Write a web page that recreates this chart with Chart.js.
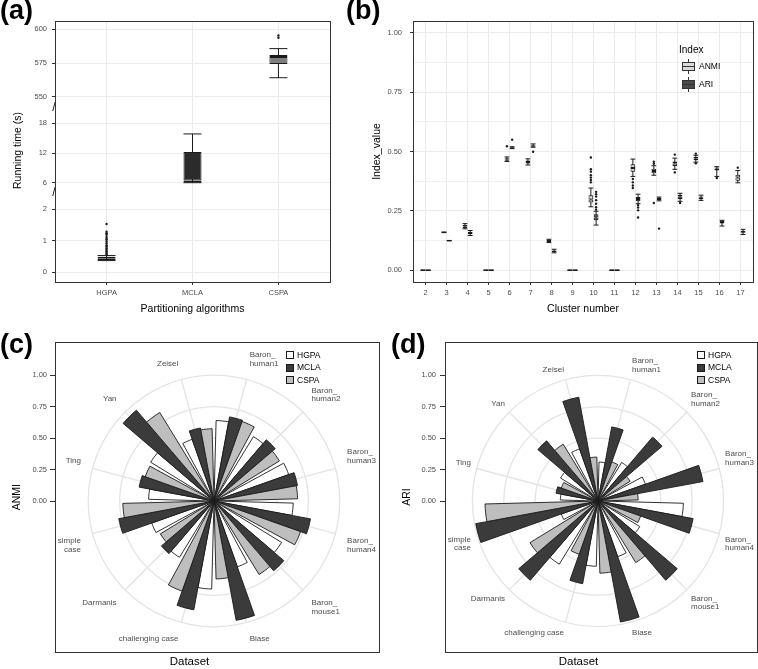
<!DOCTYPE html>
<html lang="en">
<head>
<meta charset="utf-8">
<title>Consensus partitioning: running time and clustering indices</title>
<script src="https://cdn.jsdelivr.net/npm/chart.js@4.4.1/dist/chart.umd.min.js"></script>
<style>
  html, body { margin: 0; padding: 0; background: #fff; }
  body { position: relative; width: 758px; height: 669px; overflow: hidden;
         font-family: 'Liberation Sans', Arial, sans-serif; color: #000; }
  canvas { position: absolute; }
  .tag { position: absolute; font-weight: bold; font-size: 27px; line-height: 27px; }
  .lg  { position: absolute; font-size: 8.5px; line-height: 12px; white-space: nowrap; }
  .lgt { position: absolute; font-size: 10px; line-height: 13px; white-space: nowrap; }
  .sw  { position: absolute; width: 6px; height: 6px; border: 1px solid #1a1a1a; }
  .key { position: absolute; width: 13px; height: 15px; }
  .key i { position: absolute; display: block; }
  .key .wh { left: 6px; top: 0; width: 1px; height: 15px; background: #333; }
  .key .bx { left: 0; top: 3px; width: 11px; height: 7px; border: 1px solid #333; }
  .key .md { left: 0; top: 7px; width: 13px; height: 1px; background: #333; }
</style>
</head>
<body>
<canvas id="runChart" width="340" height="320" style="left:0;top:0"></canvas>
<canvas id="clusterChart" width="390" height="320" style="left:368px;top:0"></canvas>
<canvas id="anmiChart" width="384" height="339" style="left:0;top:330px"></canvas>
<canvas id="ariChart" width="358" height="339" style="left:400px;top:330px"></canvas>
<div class="tag" style="left:0;top:-3px">(a)</div>
<div class="tag" style="left:346px;top:-3px">(b)</div>
<div class="tag" style="left:0;top:331px">(c)</div>
<div class="tag" style="left:391px;top:331px">(d)</div>
<script>
// ---------- (a) running time per partitioning algorithm ----------
var ALGORITHMS = ['HGPA', 'MCLA', 'CSPA'];
var RUN_LOWER  = [0.37, 6.0, 564.1];
var RUN_Q1     = [0.39, 6.05, 574.3];
var RUN_MEDIAN = [0.43, 6.45, 579.5];
var RUN_Q3     = [0.49, 12.2, 580.9];
var RUN_UPPER  = [0.53, 15.85, 585.7];
var RUN_OUTLIERS = [
  [0.55, 0.58, 0.62, 0.67, 0.71, 0.76, 0.82, 0.85, 0.91, 0.97, 1.03, 1.06, 1.12, 1.19, 1.24, 1.29, 1.53],
  [],
  [593.8, 595.5]
];
var RUN_SEGMENT = ['yLow', 'yMid', 'yTop'];
var SEG_TOP_TICKS = [550, 575, 600];
var SEG_MID_TICKS = [6, 12, 18];
var SEG_LOW_TICKS = [0, 1, 2];

// ---------- (b) index values per cluster number ----------
var CLUSTERS = [2, 3, 4, 5, 6, 7, 8, 9, 10, 11, 12, 13, 14, 15, 16, 17];
var INDICES = ['ANMI', 'ARI'];
var ANMI_BOX_LOWER = [0, 0.160, 0.174, 0, 0.458, 0.443, 0.116, 0, 0.267, 0, 0.395, 0.400, 0.425, 0.455, 0.395, 0.368];
var ANMI_BOX_Q1    = [0, 0.160, 0.178, 0, 0.461, 0.449, 0.119, 0, 0.285, 0, 0.415, 0.408, 0.439, 0.463, 0.420, 0.377];
var ANMI_BOX_MED   = [0, 0.160, 0.184, 0, 0.466, 0.456, 0.123, 0, 0.298, 0, 0.430, 0.418, 0.449, 0.470, 0.428, 0.390];
var ANMI_BOX_Q3    = [0, 0.160, 0.190, 0, 0.472, 0.462, 0.126, 0, 0.316, 0, 0.446, 0.427, 0.458, 0.477, 0.433, 0.402];
var ANMI_BOX_UPPER = [0, 0.160, 0.196, 0, 0.477, 0.469, 0.130, 0, 0.346, 0, 0.468, 0.440, 0.472, 0.484, 0.436, 0.420];
var ANMI_BOX_OUT = [[], [], [], [], [0.522], [], [], [],
  [0.37, 0.38, 0.39, 0.40, 0.415, 0.425, 0.475], [], [0.384, 0.37, 0.357, 0.346],
  [0.448, 0.457, 0.283], [0.487, 0.412], [0.491, 0.450], [0.388], [0.432]];
var ARI_BOX_LOWER = [0, 0.125, 0.146, 0, 0.512, 0.518, 0.073, 0, 0.190, 0, 0.280, 0.292, 0.290, 0.294, 0.186, 0.150];
var ARI_BOX_Q1    = [0, 0.125, 0.151, 0, 0.513, 0.520, 0.076, 0, 0.210, 0, 0.290, 0.295, 0.300, 0.299, 0.197, 0.155];
var ARI_BOX_MED   = [0, 0.125, 0.156, 0, 0.516, 0.524, 0.079, 0, 0.222, 0, 0.300, 0.300, 0.310, 0.305, 0.203, 0.160];
var ARI_BOX_Q3    = [0, 0.125, 0.161, 0, 0.518, 0.527, 0.082, 0, 0.236, 0, 0.308, 0.305, 0.318, 0.310, 0.207, 0.166];
var ARI_BOX_UPPER = [0, 0.125, 0.167, 0, 0.520, 0.532, 0.088, 0, 0.248, 0, 0.320, 0.308, 0.324, 0.316, 0.210, 0.172];
var ARI_BOX_OUT = [[], [], [], [], [0.55], [0.499], [], [],
  [0.255, 0.265, 0.28, 0.295, 0.31, 0.32, 0.33], [], [0.274, 0.264, 0.252, 0.222],
  [0.175], [0.283], [], [], []];
var INDEX_BREAKS = [0, 0.25, 0.5, 0.75, 1];
var INDEX_GRID = [0, 0.125, 0.25, 0.375, 0.5, 0.625, 0.75, 0.875, 1];

// ---------- (c) ANMI and (d) ARI per dataset ----------
var DATASET_NAMES = [['Baron_', 'human1'], ['Baron_', 'human2'], ['Baron_', 'human3'], ['Baron_', 'human4'],
  ['Baron_', 'mouse1'], 'Biase', 'challenging case', 'Darmanis', ['simple', 'case'], 'Ting', 'Yan', 'Zeisel'];
var ANMI_HGPA = [0.64, 0.60, 0.63, 0.63, 0.63, 0.555, 0.70, 0.525, 0.525, 0.52, 0.59, 0.52];
var ANMI_MCLA = [0.68, 0.64, 0.675, 0.78, 0.73, 0.965, 0.88, 0.55, 0.77, 0.605, 0.95, 0.59];
var ANMI_CSPA = [0.67, 0.61, 0.665, 0.73, 0.685, 0.62, 0.76, 0.50, 0.725, 0.58, 0.825, 0.575];
var ARI_HGPA = [0.31, 0.36, 0.40, 0.68, 0.39, 0.47, 0.52, 0.59, 0.31, 0.30, 0.35, 0.44];
var ARI_MCLA = [0.60, 0.67, 0.85, 0.77, 0.83, 0.98, 0.67, 0.83, 0.99, 0.34, 0.63, 0.84];
var ARI_CSPA = [0.33, 0.30, 0.32, 0.36, 0.575, 0.575, 0.45, 0.635, 0.90, 0.31, 0.53, 0.35];
var RADIAL_BREAKS = [0, 0.25, 0.5, 0.75, 1];

// ---------- shared look ----------
Chart.defaults.font.family = "'Liberation Sans', Arial, sans-serif";
Chart.defaults.color = '#4d4d4d';
Chart.defaults.animation = false;
Chart.defaults.events = [];
Chart.defaults.plugins.legend.display = false;
Chart.defaults.plugins.tooltip.enabled = false;

var INK = '#1a1a1a';
var AXIS = '#333333';
var GRID = '#ebebeb';
var TICK_FONT = { size: 7.5 };
var RUN_FILLS = ['#ffffff', '#2b2b2b', '#7f7f7f'];
var INDEX_FILLS = ['#d9d9d9', '#4a4a4a'];
var POLAR_FILLS = ['#ffffff', '#3b3b3b', '#bebebe'];
var DODGE = 0.125;

function axisTitle(text, padding, size) {
  return { display: true, text: text, color: '#000', font: { size: size || 10.5 }, padding: padding };
}

// invisible-tick axis that only draws a side of the panel frame
function frameAxis(position) {
  return {
    type: 'linear', position: position, display: true, offset: false,
    ticks: { display: false },
    grid: { display: false, drawTicks: false },
    border: { display: true, color: AXIS, width: 1 }
  };
}

// box plot = whisker bar + two half boxes (their shared edge is the median) + caps + outliers
function boxplotSeries(o) {
  var span = function (a, b) {
    return o.xs.map(function (x, i) { return { x: x, y: [a[i], b[i]] }; });
  };
  var common = {
    type: 'bar', xAxisID: 'x', yAxisID: o.yAxisID, stack: o.stack, grouped: true,
    categoryPercentage: o.catPct, barPercentage: o.barPct, borderSkipped: false
  };
  var caps = [], outliers = [];
  o.xs.forEach(function (x, i) {
    caps.push({ x: x + o.dodge, y: o.lower[i] }, { x: x + o.dodge, y: o.upper[i] });
    o.outliers[i].forEach(function (v) { outliers.push({ x: x + o.dodge, y: v }); });
  });
  return [
    Object.assign({}, common, { label: o.label + ' whisker', data: span(o.lower, o.upper),
      backgroundColor: INK, borderWidth: 0, maxBarThickness: 1, order: 4 }),
    Object.assign({}, common, { label: o.label, data: span(o.q1, o.median),
      backgroundColor: o.fill, borderColor: INK, borderWidth: 1, minBarLength: 1, order: 3 }),
    Object.assign({}, common, { label: o.label, data: span(o.median, o.q3),
      backgroundColor: o.fill, borderColor: INK, borderWidth: 1, minBarLength: 1, order: 3 }),
    { type: 'scatter', label: o.label + ' caps', xAxisID: 'x', yAxisID: o.yAxisID, data: caps,
      pointStyle: 'line', pointRadius: o.capRadius, pointBorderColor: INK, pointBorderWidth: 1, order: 2 },
    { type: 'scatter', label: o.label + ' outliers', xAxisID: 'x', yAxisID: o.yAxisID, data: outliers,
      pointStyle: 'circle', pointRadius: 1.2, pointBackgroundColor: INK, pointBorderWidth: 0, order: 1 }
  ];
}

// ======================================================================
// (a) Running time, broken y axis built from stacked scales
// ======================================================================
function segmentAxis(range, ticks, weight, stackWeight, title) {
  return {
    type: 'linear', position: 'left', stack: 'runtime', weight: weight, stackWeight: stackWeight,
    min: range[0], max: range[1], stacked: false, beginAtZero: false,
    afterBuildTicks: function (scale) { scale.ticks = ticks.map(function (v) { return { value: v }; }); },
    afterFit: function (scale) { scale.width = 55; },
    ticks: { font: TICK_FONT, padding: 5, callback: function (v) { return String(v); } },
    grid: { color: GRID, tickColor: AXIS, tickLength: 3 },
    border: { color: AXIS, width: 1 },
    title: title || { display: false }
  };
}

function breakAxis(weight) {
  return {
    type: 'category', labels: ['//'], offset: true, position: 'left', stack: 'runtime',
    weight: weight, stackWeight: 8,
    afterFit: function (scale) { scale.width = 55; },
    ticks: { color: '#111', font: { size: 12 }, padding: -4 },
    grid: { display: false, drawTicks: false },
    border: { color: AXIS, width: 1 }
  };
}

var runSets = [];
ALGORITHMS.forEach(function (name, i) {
  runSets = runSets.concat(boxplotSeries({
    label: name, xs: [i + 1],
    lower: [RUN_LOWER[i]], q1: [RUN_Q1[i]], median: [RUN_MEDIAN[i]], q3: [RUN_Q3[i]], upper: [RUN_UPPER[i]],
    outliers: [RUN_OUTLIERS[i]], fill: RUN_FILLS[i], stack: 'runtime', yAxisID: RUN_SEGMENT[i],
    dodge: 0, catPct: 1, barPct: 0.21, capRadius: 9
  }));
});

new Chart(document.getElementById('runChart'), {
  type: 'scatter',
  data: { datasets: runSets },
  options: {
    responsive: false,
    layout: { padding: { top: 21, right: 8, left: 0, bottom: 0 } },
    scales: {
      x: {
        type: 'linear', position: 'bottom', min: 0.4, max: 3.6, offset: false,
        afterBuildTicks: function (s) { s.ticks = ALGORITHMS.map(function (n, i) { return { value: i + 1 }; }); },
        afterFit: function (s) { s.height = 38; },
        ticks: { font: TICK_FONT, padding: 3, autoSkip: false, maxRotation: 0,
                 callback: function (v) { return ALGORITHMS[Math.round(v) - 1]; } },
        grid: { color: GRID, tickColor: AXIS, tickLength: 3, offset: false },
        border: { color: AXIS },
        title: axisTitle('Partitioning algorithms', { top: 0, bottom: 5 })
      },
      xTop: frameAxis('top'),
      yRight: frameAxis('right'),
      yTop: segmentAxis([544.6, 606.2], SEG_TOP_TICKS, 5, 83),
      yBreakHigh: breakAxis(4),
      yMid: segmentAxis([4.73, 20.28], SEG_MID_TICKS, 3, 77,
                        axisTitle('Running time (s)', { top: 12, bottom: 0 })),
      yBreakLow: breakAxis(2),
      yLow: segmentAxis([-0.31, 2.39], SEG_LOW_TICKS, 1, 85)
    }
  }
});

// ======================================================================
// (b) ANMI / ARI box plots per cluster number
// ======================================================================
var clusterSets = boxplotSeries({
  label: 'ANMI', xs: CLUSTERS, lower: ANMI_BOX_LOWER, q1: ANMI_BOX_Q1, median: ANMI_BOX_MED,
  q3: ANMI_BOX_Q3, upper: ANMI_BOX_UPPER, outliers: ANMI_BOX_OUT, fill: INDEX_FILLS[0],
  stack: 'ANMI', yAxisID: 'y', dodge: -DODGE, catPct: 4 * DODGE, barPct: 0.9, capRadius: 2.4
}).concat(boxplotSeries({
  label: 'ARI', xs: CLUSTERS, lower: ARI_BOX_LOWER, q1: ARI_BOX_Q1, median: ARI_BOX_MED,
  q3: ARI_BOX_Q3, upper: ARI_BOX_UPPER, outliers: ARI_BOX_OUT, fill: INDEX_FILLS[1],
  stack: 'ARI', yAxisID: 'y', dodge: DODGE, catPct: 4 * DODGE, barPct: 0.9, capRadius: 2.4
}));

function isIndexBreak(ctx) { return ctx.tick && INDEX_BREAKS.indexOf(ctx.tick.value) >= 0; }

new Chart(document.getElementById('clusterChart'), {
  type: 'scatter',
  data: { datasets: clusterSets },
  options: {
    responsive: false,
    layout: { padding: { top: 21, right: 1, left: 0, bottom: 0 } },
    scales: {
      x: {
        type: 'linear', position: 'bottom', min: 1.4, max: 17.6, offset: false,
        afterBuildTicks: function (s) { s.ticks = CLUSTERS.map(function (c) { return { value: c }; }); },
        afterFit: function (s) { s.height = 38; },
        ticks: { font: TICK_FONT, padding: 3, autoSkip: false, maxRotation: 0,
                 callback: function (v) { return String(v); } },
        grid: { color: GRID, tickColor: AXIS, tickLength: 3, offset: false },
        border: { color: AXIS },
        title: axisTitle('Cluster number', { top: 0, bottom: 5 })
      },
      y: {
        type: 'linear', position: 'left', min: -0.05, max: 1.05, beginAtZero: false, stacked: false,
        afterBuildTicks: function (s) { s.ticks = INDEX_GRID.map(function (v) { return { value: v }; }); },
        afterFit: function (s) { s.width = 45; },
        ticks: { font: TICK_FONT, padding: 8,
                 callback: function (v) { return INDEX_BREAKS.indexOf(v) >= 0 ? v.toFixed(2) : ''; } },
        grid: {
          color: GRID, tickLength: 3,
          lineWidth: function (ctx) { return isIndexBreak(ctx) ? 1 : 0.7; },
          tickColor: function (ctx) { return isIndexBreak(ctx) ? AXIS : 'rgba(0,0,0,0)'; }
        },
        border: { color: AXIS },
        title: axisTitle('Index_value', { top: 2.5, bottom: 0 })
      },
      xTop: frameAxis('top'),
      yRight: frameAxis('right')
    }
  }
});

// ======================================================================
// (c)/(d) rose charts: 3 wedges of 9 deg per dataset, 3 deg gap between datasets
// ======================================================================
var WEDGE = 9;
var GAP = 3;
var LEAD = 360 - 1.5 * WEDGE;   // first, empty element moves the first wedge to the start of its sector

function alignRadialAxis(chart) {
  var r = chart.scales.r, area = chart.chartArea, y = chart.options.scales.y;
  var perUnit = r.drawingArea / (r.max - r.min);
  y.max = (r.yCenter - area.top) / perUnit;
  y.min = -(area.bottom - r.yCenter) / perUnit;
  chart.update();
}

function roseChart(canvasId, indexName, series, layout) {
  var values = [0], angles = [LEAD], fills = ['rgba(0,0,0,0)'], borders = [0];
  DATASET_NAMES.forEach(function (name, i) {
    series.forEach(function (s, j) {
      values.push(s[i]); angles.push(WEDGE); fills.push(POLAR_FILLS[j]); borders.push(0.9);
    });
    values.push(0); angles.push(GAP); fills.push('rgba(0,0,0,0)'); borders.push(0);
  });

  var chart = new Chart(document.getElementById(canvasId), {
    type: 'polarArea',
    data: {
      labels: DATASET_NAMES,
      datasets: [{
        label: indexName, data: values,
        angle: function (ctx) { return angles[ctx.dataIndex]; },
        backgroundColor: fills, borderColor: INK, borderWidth: borders
      }]
    },
    options: {
      responsive: false,
      layout: { padding: { top: 12, right: layout.rightPad, left: 0, bottom: 0 } },
      scales: {
        r: {
          min: 0, max: 1, startAngle: 15,
          ticks: { display: false, stepSize: 0.25 },
          grid: { circular: true, color: '#e4e4e4', lineWidth: 1.3 },
          angleLines: { display: true, color: '#e4e4e4', lineWidth: 1.3 },
          pointLabels: { display: true, color: '#4d4d4d', font: { size: 8, lineHeight: 1.1 },
                         padding: layout.labelPad }
        },
        x: frameAxis('bottom'),
        xTop: frameAxis('top'),
        yRight: frameAxis('right'),
        y: {
          type: 'linear', position: 'left', min: -1.25, max: 1.25,
          afterBuildTicks: function (s) { s.ticks = RADIAL_BREAKS.map(function (v) { return { value: v }; }); },
          afterFit: function (s) { s.width = layout.yWidth; },
          ticks: { font: TICK_FONT, padding: layout.tickPad, callback: function (v) { return v.toFixed(2); } },
          grid: { drawOnChartArea: false, tickColor: AXIS, tickLength: 5 },
          border: { color: AXIS },
          title: axisTitle(indexName, { top: layout.titlePad, bottom: 0 })
        }
      },
      plugins: {
        title: { display: true, position: 'bottom', text: 'Dataset', color: '#000',
                 font: { size: 11.5, weight: 'normal' }, padding: { top: 3, bottom: 0 } }
      }
    }
  });
  alignRadialAxis(chart);
  return chart;
}

roseChart('anmiChart', 'ANMI', [ANMI_HGPA, ANMI_MCLA, ANMI_CSPA],
          { yWidth: 55, tickPad: 3, titlePad: 10.4, rightPad: 5, labelPad: 12 });
roseChart('ariChart', 'ARI', [ARI_HGPA, ARI_MCLA, ARI_CSPA],
          { yWidth: 45, tickPad: 4, titlePad: 0.4, rightPad: 1, labelPad: 6 });

// ---------- legends ----------
function place(cls, left, top, text, bg) {
  var el = document.createElement('div');
  el.className = cls;
  el.style.left = left + 'px';
  el.style.top = top + 'px';
  if (text) el.textContent = text;
  if (bg) el.style.background = bg;
  document.body.appendChild(el);
  return el;
}

[[286, 297], [697, 708]].forEach(function (pos) {
  ALGORITHMS.forEach(function (name, i) {
    place('sw', pos[0], 351 + i * 12.6, '', POLAR_FILLS[i]);
    place('lg', pos[1], 348.5 + i * 12.6, name);
  });
});

place('lgt', 679, 43, 'Index');
INDICES.forEach(function (name, i) {
  var key = place('key', 682, 59 + i * 18);
  key.innerHTML = '<i class="wh"></i><i class="bx" style="background:' + INDEX_FILLS[i] + '"></i><i class="md"></i>';
  place('lg', 699, 60 + i * 18, name);
});
</script>
</body>
</html>
